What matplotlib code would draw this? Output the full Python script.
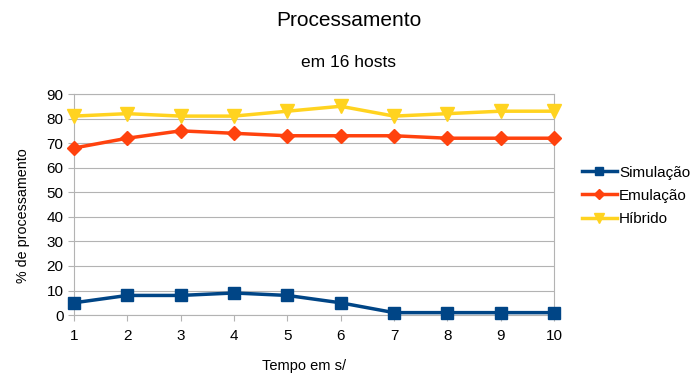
import matplotlib.pyplot as plt
import numpy as np

plt.rcParams['font.family'] = ['Liberation Sans', 'DejaVu Sans']

# data
tempo = [1, 2, 3, 4, 5, 6, 7, 8, 9, 10]
simulacao = [5, 8, 8, 9, 8, 5, 1, 1, 1, 1]
emulacao = [68, 72, 75, 74, 73, 73, 73, 72, 72, 72]
hibrido = [81, 82, 81, 81, 83, 85, 81, 82, 83, 83]

fig = plt.figure(figsize=(6.97, 3.76), dpi=100)
ax = fig.add_axes([0.106, 0.162, 0.689, 0.588])

ax.plot(tempo, simulacao, color='#004586', marker='s', markersize=8, linewidth=2.5,
        label='Simulação', clip_on=False, zorder=3)
ax.plot(tempo, emulacao, color='#ff420e', marker='D', markersize=7, linewidth=2.5,
        label='Emulação', clip_on=False, zorder=3)
ax.plot(tempo, hibrido, color='#ffd320', marker='v', markersize=10, linewidth=2.5,
        label='Híbrido', clip_on=False, zorder=3)

ax.set_xlim(1, 10)
ax.set_ylim(0, 90)
ax.set_xticks(tempo)
ax.set_yticks(np.arange(0, 91, 10))
ax.grid(axis='y', color='#b3b3b3', linewidth=0.8)
ax.set_axisbelow(True)
for s in ax.spines.values():
    s.set_color('#b3b3b3')
ax.tick_params(axis='both', colors='#b3b3b3', labelcolor='black', labelsize=11, length=4)
ax.tick_params(axis='x', pad=6)

ax.set_xlabel('Tempo em s/', fontsize=10.5, labelpad=12)
ax.set_ylabel('% de processamento', fontsize=10.3, labelpad=12)
ax.xaxis.set_label_coords(0.48, -0.2)
ax.yaxis.label.set_y(0.45)

fig.text(0.5, 0.945, 'Processamento', ha='center', va='center', fontsize=15)
fig.text(0.5, 0.835, 'em 16 hosts', ha='center', va='center', fontsize=12.5)

ax.legend(loc='center left', bbox_to_anchor=(1.035, 0.54), frameon=False, fontsize=11,
          handlelength=2.3, borderaxespad=0.3, handletextpad=0.15, labelspacing=0.6,
          markerscale=0.7)

plt.savefig('out.png', dpi=100)
